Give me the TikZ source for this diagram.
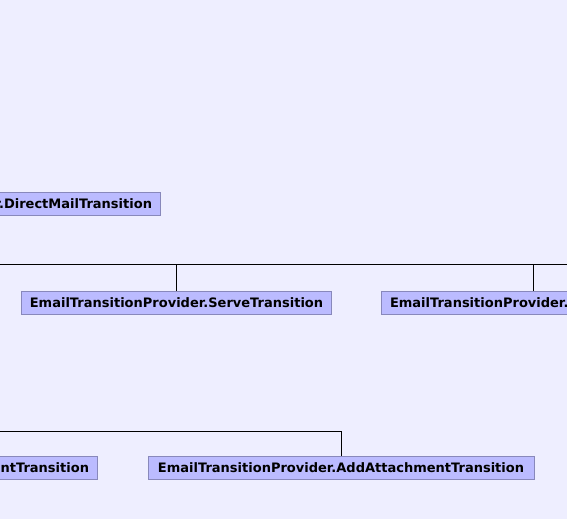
\documentclass[tikz,border=0pt]{standalone}
\usepackage{fontspec}
\setmainfont{DejaVu Sans}
\usepackage{tikz}
\usetikzlibrary{positioning}
\usepackage{xcolor}
\definecolor{bgpanel}{RGB}{238,238,255}
\definecolor{boxfill}{RGB}{187,187,255}
\definecolor{boxline}{RGB}{136,136,187}

\begin{document}
\begin{tikzpicture}[
  x=1pt, y=-1pt,
  classbox/.style = {draw=boxline, fill=boxfill, line width=1pt,
    minimum height=23pt, inner xsep=8.5pt, inner ysep=0pt,
    font=\fontsize{13}{15}\selectfont\bfseries},
  link/.style = {draw=black, line width=1pt}
]
  \useasboundingbox (0,0) rectangle (567,519);
  \fill[bgpanel] (0,0) rectangle (567,519);
  \clip (0,0) rectangle (567,519);
  % boxes, cut at the picture edge
  \node[classbox, anchor=east, text width=200pt, align=right] (direct) at (161,203.5) {r.DirectMailTransition};
  \node[classbox, minimum width=309pt] (serve) at (176.5,302.5) {EmailTransitionProvider.ServeTransition};
  \node[classbox, anchor=west, text width=287pt, align=left] (other) at (381,302.5) {EmailTransitionProvider.};
  \node[classbox, anchor=east, text width=120pt, align=right] (lower) at (98,468) {entTransition};
  \node[classbox, minimum width=386pt] (attach) at (341,468) {EmailTransitionProvider.AddAttachmentTransition};
  % connectors
  \coordinate (busL) at (0,264.5);
  \coordinate (busR) at (567,264.5);
  \coordinate (lowL) at (0,431);
  \draw[link] (busL) -- (busR);
  \draw[link] (serve.north) -- (serve.north |- busL);
  \draw[link] (other.north) -- (other.north |- busL);
  \draw[link] (lowL) -| (attach.north);
\end{tikzpicture}
\end{document}
